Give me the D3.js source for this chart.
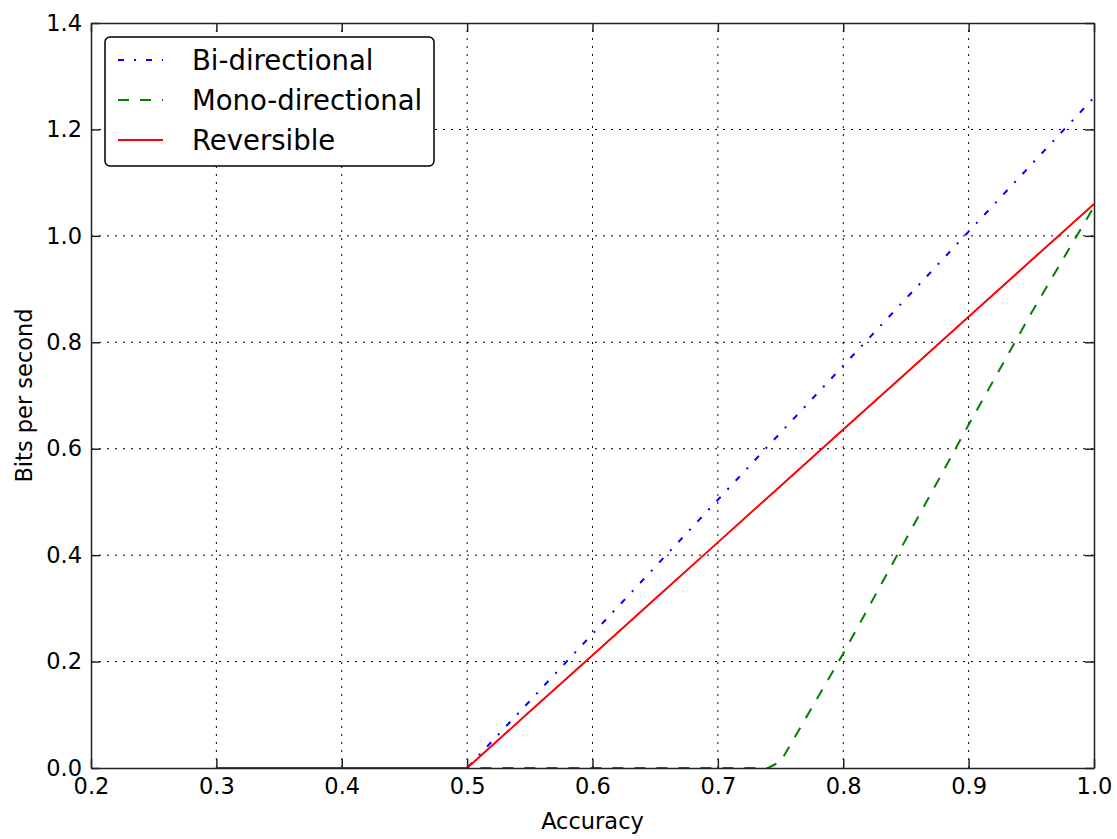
<!DOCTYPE html>
<html lang="en">
<head>
  <meta charset="UTF-8">
  <title>Bits per second vs accuracy</title>
  <style>
    html, body {
      margin: 0;
      padding: 0;
      background-color: #fff;
    }

    svg text {
      font-family: "DejaVu Sans", sans-serif;
      fill: #000;
    }

    .grid line {
      stroke: #000;
      stroke-width: 1;
      stroke-dasharray: 2, 6;
    }

    .axis path,
    .axis line {
      stroke: #222;
      stroke-width: 1.5;
    }

    .axis text {
      font-size: 22.5px;
    }

    .series {
      fill: none;
      stroke-width: 2;
    }
  </style>
</head>
<body>
  <script src="https://d3js.org/d3.v7.min.js"></script>
  <script>
    // values
    const accuracy = [0.30, 0.35, 0.40, 0.45, 0.50, 0.55, 0.60, 0.65, 0.70, 0.74, 0.75, 0.80, 0.85, 0.90, 0.95, 1.00]
    const biDirectional = [0, 0, 0, 0, 0, 0.126, 0.252, 0.378, 0.504, 0.605, 0.63, 0.756, 0.882, 1.008, 1.134, 1.26]
    const monoDirectional = [0, 0, 0, 0, 0, 0, 0, 0, 0, 0, 0.012, 0.215, 0.43, 0.645, 0.855, 1.055]
    const reversible = [0, 0, 0, 0, 0, 0.106, 0.212, 0.318, 0.424, 0.509, 0.53, 0.636, 0.742, 0.848, 0.954, 1.06]

    const xTicks = [0.2, 0.3, 0.4, 0.5, 0.6, 0.7, 0.8, 0.9, 1.0]
    const yTicks = [0.0, 0.2, 0.4, 0.6, 0.8, 1.0, 1.2, 1.4]

    const series = [
      { name: 'Bi-directional', values: biDirectional, color: '#0000ff', dash: '6,10,2,10' },
      { name: 'Mono-directional', values: monoDirectional, color: '#008000', dash: '11,11' },
      { name: 'Reversible', values: reversible, color: '#ff0000', dash: null },
    ]

    const width = 1117,
          height = 839,
          margin = { top: 23, right: 23, bottom: 71, left: 91 },
          tickLen = 9

    const x = d3.scaleLinear().domain([0.2, 1.0]).range([margin.left, width - margin.right])
    const y = d3.scaleLinear().domain([0, 1.4]).range([height - margin.bottom, margin.top])

    const svg = d3.select('body')
      .append('svg')
      .attr('width', width)
      .attr('height', height)

    // dotted grid
    const grid = svg.append('g').attr('class', 'grid')
    grid.selectAll('.gx')
      .data(xTicks.slice(1, -1))
      .enter()
        .append('line')
        .attr('x1', d => x(d)).attr('x2', d => x(d))
        .attr('y1', y(0)).attr('y2', y(1.4))
    grid.selectAll('.gy')
      .data(yTicks.slice(1, -1))
      .enter()
        .append('line')
        .attr('x1', x(0.2)).attr('x2', x(1.0))
        .attr('y1', d => y(d)).attr('y2', d => y(d))

    // lines
    const line = values => d3.line()
      .x((d, i) => x(accuracy[i]))
      .y(d => y(d))(values)

    series.forEach(s => {
      svg.append('path')
        .attr('class', 'series')
        .attr('d', line(s.values))
        .attr('stroke', s.color)
        .attr('stroke-dasharray', s.dash)
    })

    // axes, ticks pointing inward on all four sides
    const fmt = d3.format('.1f')

    svg.append('g')
      .attr('class', 'axis')
      .attr('transform', `translate(0,${y(0)})`)
      .call(d3.axisBottom(x).tickValues(xTicks).tickFormat(fmt).tickSizeInner(-tickLen).tickSizeOuter(0).tickPadding(10))

    svg.append('g')
      .attr('class', 'axis')
      .attr('transform', `translate(0,${y(1.4)})`)
      .call(d3.axisTop(x).tickValues(xTicks).tickFormat('').tickSizeInner(-tickLen).tickSizeOuter(0))

    svg.append('g')
      .attr('class', 'axis')
      .attr('transform', `translate(${x(0.2)},0)`)
      .call(d3.axisLeft(y).tickValues(yTicks).tickFormat(fmt).tickSizeInner(-tickLen).tickSizeOuter(0).tickPadding(9))

    svg.append('g')
      .attr('class', 'axis')
      .attr('transform', `translate(${x(1.0)},0)`)
      .call(d3.axisRight(y).tickValues(yTicks).tickFormat('').tickSizeInner(-tickLen).tickSizeOuter(0))

    // axis titles
    svg.append('text')
      .attr('x', (x(0.2) + x(1.0)) / 2)
      .attr('y', 829)
      .attr('text-anchor', 'middle')
      .style('font-size', '22.5px')
      .text('Accuracy')

    svg.append('text')
      .attr('transform', `translate(32,${(y(0) + y(1.4)) / 2}) rotate(-90)`)
      .attr('text-anchor', 'middle')
      .style('font-size', '22.5px')
      .text('Bits per second')

    // legend
    const legend = svg.append('g').attr('transform', 'translate(105,37)')
    legend.append('rect')
      .attr('width', 329)
      .attr('height', 129)
      .attr('rx', 5)
      .attr('fill', '#fff')
      .attr('stroke', '#000')
      .attr('stroke-width', 1.5)

    series.forEach((s, i) => {
      const cy = 23 + i * 40
      legend.append('line')
        .attr('x1', 13).attr('x2', 58)
        .attr('y1', cy).attr('y2', cy)
        .attr('stroke', s.color)
        .attr('stroke-width', 2)
        .attr('stroke-dasharray', s.dash)
      legend.append('text')
        .attr('x', 87)
        .attr('y', cy + 10)
        .style('font-size', '27.5px')
        .text(s.name)
    })
  </script>
</body>
</html>
